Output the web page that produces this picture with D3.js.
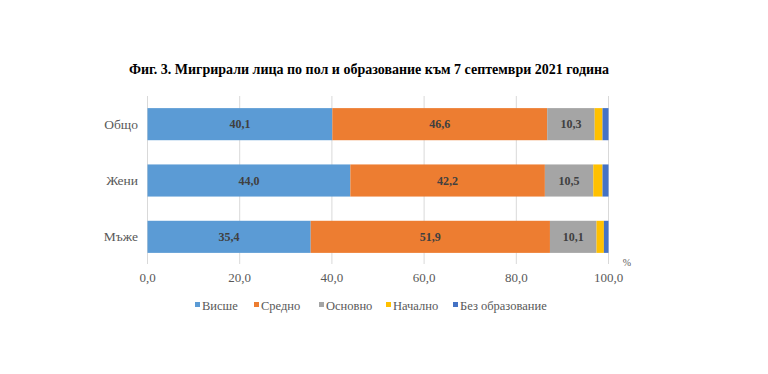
<!DOCTYPE html>
<html>
<head>
<meta charset="utf-8">
<style>
  body { margin: 0; background: #fff; }
</style>
</head>
<body>
<div class="container"></div>
<script src="https://d3js.org/d3.v7.min.js"></script>
<script>
var categories = ["Общо", "Жени", "Мъже"]
var seriesNames = ["Висше", "Средно", "Основно", "Начално", "Без образование"]
var vissheVals = [40.1, 44.0, 35.4]
var srednoVals = [46.6, 42.2, 51.9]
var osnovnoVals = [10.3, 10.5, 10.1]
var nachalnoVals = [1.7, 2.0, 1.6]
var bezVals = [1.3, 1.3, 1.0]
var xTicks = [0, 20, 40, 60, 80, 100]
var colors = ["#5b9bd5", "#ed7d31", "#a5a5a5", "#ffc000", "#4472c4"]

var wd = 768, ht = 374
var serif = "'Liberation Serif', 'Times New Roman', serif"

var rows = categories.map(function(c, i) {
  return { cat: c, "Висше": vissheVals[i], "Средно": srednoVals[i], "Основно": osnovnoVals[i],
           "Начално": nachalnoVals[i], "Без образование": bezVals[i] }
})

var svg = d3.select(".container").append("svg")
  .attr("width", wd).attr("height", ht)
  .style("font-family", serif)

svg.append("text")
  .attr("x", 369).attr("y", 74)
  .attr("text-anchor", "middle")
  .style("font-family", serif)
  .style("font-size", "14px").style("font-weight", "bold").attr("fill", "#000")
  .text("Фиг. 3. Мигрирали лица по пол и образование към 7 септември 2021 година")

var x = d3.scaleLinear().domain([0, 100]).range([147.5, 608.5])
var y = d3.scaleBand().domain(categories).range([96, 265]).paddingInner(0.43).paddingOuter(0.215)

// gridlines
svg.append("g").selectAll("line").data(xTicks).join("line")
  .attr("x1", d => x(d)).attr("x2", d => x(d))
  .attr("y1", 96).attr("y2", 264)
  .attr("stroke", "#d9d9d9").attr("stroke-width", 1)

// tick labels
svg.append("g").selectAll("text").data(xTicks).join("text")
  .attr("x", d => x(d)).attr("y", 282)
  .attr("text-anchor", "middle")
  .style("font-family", serif)
  .style("font-size", "13px").attr("fill", "#595959")
  .text(d => d3.format(".1f")(d).replace(".", ","))

svg.append("text").attr("x", 627).attr("y", 266)
  .attr("text-anchor", "middle").style("font-family", serif)
  .style("font-size", "10px").attr("fill", "#595959").text("%")

// category labels
svg.append("g").selectAll("text").data(categories).join("text")
  .attr("x", 138).attr("y", d => y(d) + y.bandwidth() / 2 + 4.5)
  .attr("text-anchor", "end")
  .style("font-family", serif)
  .style("font-size", "13.5px").attr("fill", "#595959")
  .text(d => d)

var stack = d3.stack().keys(seriesNames)(rows)

var layers = svg.append("g").selectAll("g").data(stack).join("g")
  .attr("fill", (d, i) => colors[i])

layers.selectAll("rect").data(d => d).join("rect")
  .attr("x", d => x(d[0]))
  .attr("width", d => x(d[1]) - x(d[0]))
  .attr("y", d => y(d.data.cat))
  .attr("height", y.bandwidth())

// data labels for first three series
stack.slice(0, 3).forEach(function(layer) {
  svg.append("g").selectAll("text").data(layer).join("text")
    .attr("x", d => (x(d[0]) + x(d[1])) / 2)
    .attr("y", d => y(d.data.cat) + y.bandwidth() / 2 + 4)
    .attr("text-anchor", "middle")
    .style("font-family", serif)
    .style("font-size", "12px").style("font-weight", "bold").attr("fill", "#404040")
    .text(d => d3.format(".1f")(d[1] - d[0]).replace(".", ","))
})

// legend
var legX = [195, 254, 319, 386, 453]
var leg = svg.append("g").selectAll("g").data(seriesNames).join("g")
  .attr("transform", (d, i) => "translate(" + legX[i] + ",306)")
leg.append("rect").attr("x", 0).attr("y", -4).attr("width", 5).attr("height", 5)
  .attr("fill", (d, i) => colors[i])
leg.append("text").attr("x", 7).attr("y", 4)
  .style("font-family", serif)
  .style("font-size", "12.5px").attr("fill", "#595959")
  .text(d => d)
</script>
</body>
</html>
